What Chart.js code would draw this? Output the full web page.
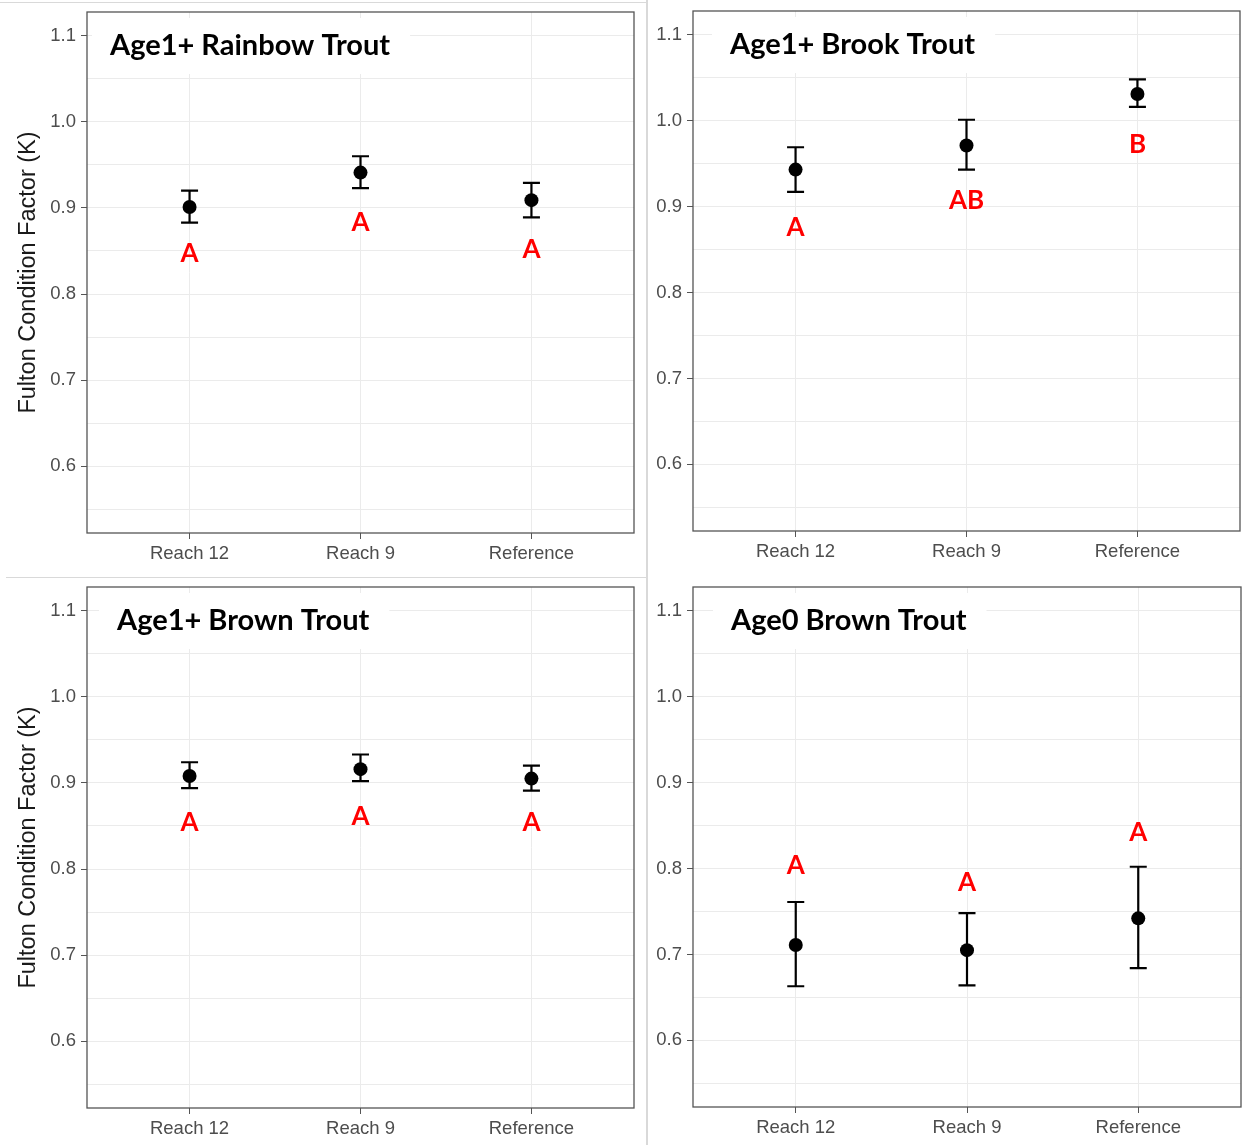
<!DOCTYPE html>
<html>
<head>
<meta charset="utf-8">
<script src="https://cdn.jsdelivr.net/npm/chart.js@4/dist/chart.umd.min.js"></script>
<style>
  html, body { margin: 0; padding: 0; background: #fff; }
  #wrap { position: relative; width: 1243px; height: 1145px; overflow: hidden; background: #fff; }
  canvas { position: absolute; }
  .sep { position: absolute; background: #d9d9d9; }
</style>
</head>
<body>
<div id="wrap">
  <div class="sep" style="left:0;top:2px;width:646px;height:1px;"></div>
  <div class="sep" style="left:6px;top:577px;width:640px;height:1px;"></div>
  <div class="sep" style="left:646px;top:0;width:2px;height:1145px;"></div>
  <canvas id="p1" width="645" height="576" style="left:0;top:0;"></canvas>
  <canvas id="p2" width="600" height="576" style="left:648px;top:0;"></canvas>
  <canvas id="p3" width="645" height="566" style="left:0;top:579px;"></canvas>
  <canvas id="p4" width="600" height="566" style="left:648px;top:579px;"></canvas>
</div>
<script>
// Sampling sites along the x axis
const categories = ['Reach 12', 'Reach 9', 'Reference'];

// Gridline / tick positions on the K axis (labels only on the tenths)
const yTickValues = [0.55, 0.6, 0.65, 0.7, 0.75, 0.8, 0.85, 0.9, 0.95, 1.0, 1.05, 1.1];
const yLimits = [0.55, 1.1];

// Age1+ Rainbow Trout: mean K with confidence limits and group letters
const rainbowMean = [0.901, 0.941, 0.909];
const rainbowLower = [0.883, 0.923, 0.889];
const rainbowUpper = [0.920, 0.960, 0.929];
const rainbowLetters = ['A', 'A', 'A'];
const rainbowLetterY = [0.848, 0.884, 0.853];

// Age1+ Brook Trout
const brookMean = [0.943, 0.971, 1.031];
const brookLower = [0.917, 0.943, 1.016];
const brookUpper = [0.969, 1.001, 1.048];
const brookLetters = ['A', 'AB', 'B'];
const brookLetterY = [0.877, 0.908, 0.973];

// Age1+ Brown Trout
const brownMean = [0.908, 0.916, 0.905];
const brownLower = [0.894, 0.902, 0.891];
const brownUpper = [0.924, 0.933, 0.920];
const brownLetters = ['A', 'A', 'A'];
const brownLetterY = [0.855, 0.862, 0.855];

// Age0 Brown Trout
const age0Mean = [0.711, 0.705, 0.742];
const age0Lower = [0.663, 0.664, 0.684];
const age0Upper = [0.761, 0.748, 0.802];
const age0Letters = ['A', 'A', 'A'];
const age0LetterY = [0.805, 0.785, 0.843];

const yTitle = 'Fulton Condition Factor (K)';

// ggplot-style 5% padding around the y limits, 0.6 units around the discrete x range
const ySpan = yLimits[1] - yLimits[0];
const yMin = yLimits[0] - 0.05 * ySpan;
const yMax = yLimits[1] + 0.05 * ySpan;

const panels = [
  { id: 'p1', title: 'Age1+ Rainbow Trout', mean: rainbowMean, lower: rainbowLower, upper: rainbowUpper,
    letters: rainbowLetters, letterY: rainbowLetterY, showTitle: true,
    axisW: 87, top: 12, right: 11, axisH: 43, titleLeft: 23 },
  { id: 'p2', title: 'Age1+ Brook Trout', mean: brookMean, lower: brookLower, upper: brookUpper,
    letters: brookLetters, letterY: brookLetterY, showTitle: false,
    axisW: 45, top: 11, right: 8, axisH: 45, titleLeft: 37 },
  { id: 'p3', title: 'Age1+ Brown Trout', mean: brownMean, lower: brownLower, upper: brownUpper,
    letters: brownLetters, letterY: brownLetterY, showTitle: true,
    axisW: 87, top: 8, right: 11, axisH: 37, titleLeft: 30 },
  { id: 'p4', title: 'Age0 Brown Trout', mean: age0Mean, lower: age0Lower, upper: age0Upper,
    letters: age0Letters, letterY: age0LetterY, showTitle: false,
    axisW: 45, top: 8, right: 7, axisH: 38, titleLeft: 38 }
];

const isMajor = v => Math.abs(Math.round(v * 10) - v * 10) < 1e-6;

function makeDecor(p) {
  return {
    id: 'panelDecor',
    beforeDatasetsDraw(chart) {
      const { ctx, chartArea: a, scales: { x, y } } = chart;
      ctx.save();
      // in-panel title on a white label box
      ctx.font = 'bold 29px Lato';
      const w = ctx.measureText(p.title).width;
      const tx = a.left + p.titleLeft;
      ctx.fillStyle = '#ffffff';
      ctx.fillRect(tx - 18, a.top + 6, w + 38, 56);
      ctx.fillStyle = '#000000';
      ctx.textBaseline = 'alphabetic';
      ctx.textAlign = 'left';
      ctx.fillText(p.title, tx, a.top + 43);
      // error bars
      ctx.strokeStyle = '#000000';
      ctx.lineWidth = 2.2;
      ctx.lineCap = 'butt';
      p.lower.forEach((lo, i) => {
        const px = x.getPixelForValue(i + 1);
        const y1 = y.getPixelForValue(lo);
        const y2 = y.getPixelForValue(p.upper[i]);
        ctx.beginPath();
        ctx.moveTo(px, y1); ctx.lineTo(px, y2);
        ctx.moveTo(px - 8.5, y1); ctx.lineTo(px + 8.5, y1);
        ctx.moveTo(px - 8.5, y2); ctx.lineTo(px + 8.5, y2);
        ctx.stroke();
      });
      ctx.restore();
    },
    afterDatasetsDraw(chart) {
      const { ctx, chartArea: a, scales: { x, y } } = chart;
      ctx.save();
      // significance letters
      ctx.font = 'bold 26px Lato';
      ctx.fillStyle = '#ff0000';
      ctx.textAlign = 'center';
      ctx.textBaseline = 'alphabetic';
      p.letters.forEach((t, i) => {
        const px = x.getPixelForValue(i + 1);
        const py = y.getPixelForValue(p.letterY[i]);
        ctx.fillText(t, px, py + 9.5);
      });
      // panel border
      ctx.strokeStyle = '#555555';
      ctx.lineWidth = 1.3;
      ctx.strokeRect(a.left, a.top, a.right - a.left, a.bottom - a.top);
      ctx.restore();
    }
  };
}

const tickFont = { family: 'Liberation Sans', size: 18.5 };

panels.forEach(p => {
  new Chart(document.getElementById(p.id), {
    type: 'scatter',
    data: {
      datasets: [{
        data: p.mean.map((m, i) => ({ x: i + 1, y: m })),
        pointRadius: 7,
        pointHoverRadius: 7,
        pointBorderWidth: 0,
        pointBackgroundColor: '#000000',
        showLine: false
      }]
    },
    options: {
      responsive: false,
      animation: false,
      devicePixelRatio: 1,
      events: [],
      layout: { padding: { top: p.top, right: p.right, left: 0, bottom: 0 } },
      plugins: { legend: { display: false }, tooltip: { enabled: false }, title: { display: false } },
      scales: {
        x: {
          type: 'linear',
          min: 0.4,
          max: 3.6,
          afterBuildTicks: s => { s.ticks = categories.map((c, i) => ({ value: i + 1 })); },
          afterFit: s => { s.height = p.axisH; s.paddingLeft = 0; s.paddingRight = 0; },
          ticks: {
            callback: v => categories[Math.round(v) - 1],
            font: tickFont, color: '#4d4d4d', padding: 4, maxRotation: 0, autoSkip: false
          },
          grid: { color: '#ebebeb', lineWidth: 1, tickLength: 6, tickColor: '#555555', drawTicks: true },
          border: { display: false }
        },
        y: {
          type: 'linear',
          min: yMin,
          max: yMax,
          afterBuildTicks: s => { s.ticks = yTickValues.map(v => ({ value: v })); },
          afterFit: s => { s.width = p.axisW; s.paddingTop = 0; s.paddingBottom = 0; },
          ticks: {
            callback: v => isMajor(v) ? v.toFixed(1) : '',
            font: tickFont, color: '#4d4d4d', padding: 5, autoSkip: false
          },
          grid: {
            color: '#ebebeb',
            lineWidth: 1,
            tickLength: 6,
            tickColor: c => (c.tick && isMajor(c.tick.value)) ? '#555555' : 'rgba(0,0,0,0)'
          },
          border: { display: false },
          title: {
            display: p.showTitle,
            text: yTitle,
            font: { family: 'Liberation Sans', size: 23.5 },
            color: '#1a1a1a',
            padding: { top: 14, bottom: 0 }
          }
        }
      }
    },
    plugins: [makeDecor(p)]
  });
});
</script>
</body>
</html>
